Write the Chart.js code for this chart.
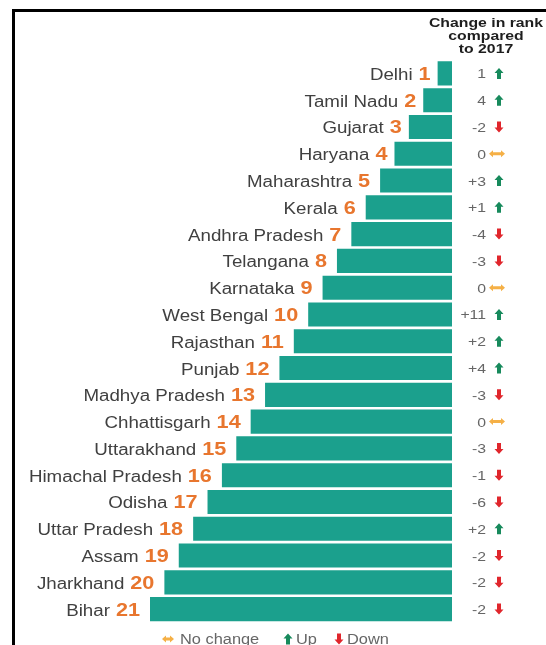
<!DOCTYPE html>
<html>
<head>
<meta charset="utf-8">
<script src="https://cdn.jsdelivr.net/npm/chart.js@4"></script>
<style>
html,body{margin:0;padding:0;background:#fff;}
canvas{display:block;}
</style>
</head>
<body>
<canvas id="c" width="546" height="645"></canvas>
<script>
const states = ["Delhi","Tamil Nadu","Gujarat","Haryana","Maharashtra","Kerala","Andhra Pradesh","Telangana","Karnataka","West Bengal","Rajasthan","Punjab","Madhya Pradesh","Chhattisgarh","Uttarakhand","Himachal Pradesh","Odisha","Uttar Pradesh","Assam","Jharkhand","Bihar"];
const ranks = [1,2,3,4,5,6,7,8,9,10,11,12,13,14,15,16,17,18,19,20,21];
const changeValues = [1,4,-2,0,3,1,-4,-3,0,11,2,4,-3,0,-3,-1,-6,2,-2,-2,-2];
const changeLabels = ["1","4","-2","0","+3","+1","-4","-3","0","+11","+2","+4","-3","0","-3","-1","-6","+2","-2","-2","-2"];
const headerLines = ["Change in rank","compared","to 2017"];
const legendItems = [["none","No change"],["up","Up"],["down","Down"]];

const SX = 1.17;
const FONT = "'Liberation Sans', Arial, Helvetica, sans-serif";
const C_BAR = "#1ba08d", C_RANK = "#e8762e", C_TEXT = "#404040", C_CHG = "#666666";
const C_UP = "#178a5c", C_DOWN = "#e0262c", C_NONE = "#f5b046";

function txt(ctx, s, x, y, font, color, align) {
  ctx.save();
  ctx.font = font; ctx.fillStyle = color; ctx.textAlign = align || "left"; ctx.textBaseline = "alphabetic";
  ctx.translate(x, y); ctx.scale(SX, 1); ctx.fillText(s, 0, 0);
  ctx.restore();
}
function tw(ctx, s, font) { ctx.save(); ctx.font = font; const w = ctx.measureText(s).width * SX; ctx.restore(); return w; }
function arrow(ctx, kind, cx, cy, hw) {
  hw = hw || 7;
  ctx.save(); ctx.beginPath();
  if (kind === "up") {
    ctx.fillStyle = C_UP;
    ctx.moveTo(cx, cy - 5.5); ctx.lineTo(cx + 4.5, cy - 0.5); ctx.lineTo(cx + 2, cy - 0.5); ctx.lineTo(cx + 2, cy + 5.5);
    ctx.lineTo(cx - 2, cy + 5.5); ctx.lineTo(cx - 2, cy - 0.5); ctx.lineTo(cx - 4.5, cy - 0.5); ctx.closePath();
  } else if (kind === "down") {
    ctx.fillStyle = C_DOWN;
    ctx.moveTo(cx, cy + 5.5); ctx.lineTo(cx + 4.5, cy + 0.5); ctx.lineTo(cx + 2, cy + 0.5); ctx.lineTo(cx + 2, cy - 5.5);
    ctx.lineTo(cx - 2, cy - 5.5); ctx.lineTo(cx - 2, cy + 0.5); ctx.lineTo(cx - 4.5, cy + 0.5); ctx.closePath();
  } else {
    ctx.fillStyle = C_NONE;
    const h = hw - 4;
    ctx.moveTo(cx - hw, cy); ctx.lineTo(cx - h, cy - 3.5); ctx.lineTo(cx - h, cy - 1.5); ctx.lineTo(cx + h, cy - 1.5);
    ctx.lineTo(cx + h, cy - 3.5); ctx.lineTo(cx + hw, cy); ctx.lineTo(cx + h, cy + 3.5); ctx.lineTo(cx + h, cy + 1.5);
    ctx.lineTo(cx - h, cy + 1.5); ctx.lineTo(cx - h, cy + 3.5); ctx.closePath();
  }
  ctx.fill(); ctx.restore();
}

const decor = {
  id: "decor",
  afterDraw(chart) {
    const ctx = chart.ctx;
    const meta = chart.getDatasetMeta(0);
    const fName = "16px " + FONT, fRank = "bold 18.5px " + FONT, fChg = "13.5px " + FONT;
    meta.data.forEach((el, i) => {
      const y = el.y;
      const rx = el.x - (ranks[i] < 5 ? 7 : 10);
      const rs = String(ranks[i]);
      txt(ctx, rs, rx, y + 6.5, fRank, C_RANK, "right");
      const rw = tw(ctx, rs, fRank);
      txt(ctx, states[i], rx - rw - 6, y + 6.5, fName, C_TEXT, "right");
      txt(ctx, changeLabels[i], 486, y + 5, fChg, C_CHG, "right");
      const v = changeValues[i];
      arrow(ctx, v > 0 ? "up" : (v < 0 ? "down" : "none"), v === 0 ? 497 : 499, y, 8);
    });
    // header
    const fH = "bold 13.5px " + FONT;
    headerLines.forEach((s, k) => txt(ctx, s, 486, 27 + k * 13, fH, "#1e1e1e", "center"));
    // legend
    const fL = "14px " + FONT;
    const ly = 639;
    const lpos = [[168, 180], [288, 296], [339, 347]];
    legendItems.forEach((it, k) => {
      arrow(ctx, it[0], lpos[k][0], ly, 6);
      txt(ctx, it[1], lpos[k][1], ly + 5, fL, C_CHG, "left");
    });
    // frame
    ctx.save();
    ctx.fillStyle = "#000";
    ctx.fillRect(12, 9, 3, 645 - 9);
    ctx.fillRect(12, 9, 546 - 12, 3);
    ctx.restore();
  }
};

new Chart(document.getElementById("c"), {
  type: "bar",
  data: {
    labels: states,
    datasets: [{ data: ranks, backgroundColor: C_BAR, borderWidth: 0, barPercentage: 0.9, categoryPercentage: 1.0 }]
  },
  options: {
    indexAxis: "y",
    responsive: false,
    animation: false,
    layout: { padding: { left: 150, right: 94, top: 60, bottom: 22.5 } },
    plugins: { legend: { display: false }, tooltip: { enabled: false } },
    scales: {
      x: { display: false, reverse: true, min: 0, max: 21 },
      y: { display: false, offset: true }
    }
  },
  plugins: [decor]
});
</script>
</body>
</html>
